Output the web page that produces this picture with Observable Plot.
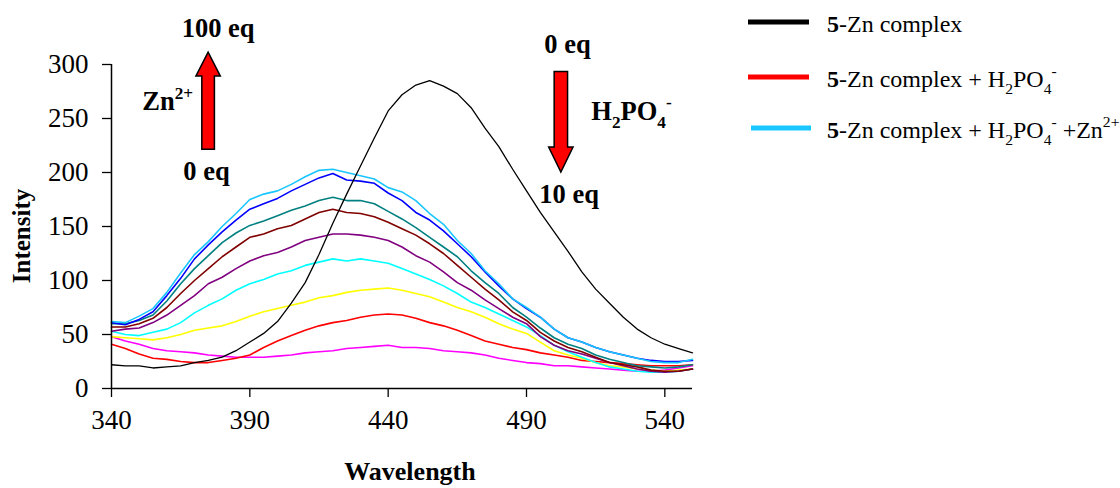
<!DOCTYPE html>
<html><head><meta charset="utf-8">
<script src="https://cdn.jsdelivr.net/npm/d3@7"></script>
<script src="https://cdn.jsdelivr.net/npm/@observablehq/plot@0.6"></script>
<style>
body{margin:0;background:#fff;}
#chart{width:1120px;height:488px;overflow:hidden;}
</style></head><body><div id="chart"></div>
<script>
// Wavelength (nm)
const wavelengths = [340,345,350,355,360,365,370,375,380,385,390,395,400,405,410,415,420,425,430,435,440,445,450,455,460,465,470,475,480,485,490,495,500,505,510,515,520,525,530,535,540,545,550];
const xTicks = [340,390,440,490,540];
const yTicks = [0,50,100,150,200,250,300];

// Intensity series
const zincComplex = [22,21,21,19,20,21,24,26,29,35,43,51,62,79,98,124,153,180,206,232,257,272,281,285,280,273,260,241,224,203,183,163,145,127,108,92,79,66,55,47,41,37,33];
const skyBlue = [62,61,67,74,89,107,124,136,150,162,175,180,183,189,196,202,203,200,197,194,186,182,174,162,152,137,125,109,97,83,75,66,55,47,43,38,34,31,28,25,24,24,27];
const blue = [61,59,64,71,86,102,120,133,145,156,166,171,176,183,189,195,199,193,192,190,181,174,163,156,146,134,122,108,95,83,74,66,55,47,43,38,34,31,28,26,25,25,26];
const teal = [60,60,63,68,81,97,111,123,135,144,151,155,160,165,169,174,177,174,174,171,164,157,149,140,131,122,109,98,88,75,66,56,47,41,37,31,27,24,21,20,19,20,22];
const maroon = [57,57,60,65,75,88,100,111,122,131,140,143,148,151,157,163,166,163,162,159,154,148,142,134,125,114,103,92,82,71,63,52,44,38,34,29,24,22,20,17,16,16,18];
const purple = [53,55,56,61,68,77,86,97,103,111,118,123,126,131,137,140,143,143,142,140,137,131,123,117,108,98,91,82,74,66,60,48,40,35,32,28,24,21,18,16,15,16,18];
const cyan = [53,50,49,52,55,61,70,77,83,91,97,101,106,109,114,117,120,118,120,118,116,111,106,101,95,88,80,75,69,63,57,49,40,34,29,24,20,18,16,15,15,16,18];
const yellow = [48,47,46,45,47,50,54,56,58,62,67,71,74,77,80,84,86,89,91,92,93,91,88,85,80,75,71,66,60,55,51,43,35,31,28,24,21,20,18,17,16,17,18];
const red = [41,37,32,28,27,25,24,24,26,28,31,38,44,49,54,58,61,63,66,68,69,68,65,61,58,54,49,44,41,38,36,33,31,29,26,25,24,23,22,21,21,21,22];
const magenta = [48,44,41,37,35,34,33,31,30,29,29,29,30,31,33,34,35,37,38,39,40,38,38,37,35,34,33,31,28,26,24,23,21,21,20,19,18,17,16,16,17,19,21];

const seriesNames = ["magenta","red","yellow","cyan","purple","maroon","teal","blue","skyBlue"];
const seriesValues = [magenta, red, yellow, cyan, purple, maroon, teal, blue, skyBlue];
const seriesColors = ["#FF00FF","#FF0000","#FFFF00","#00FFFF","#800080","#800000","#008080","#0000FF","#1AC6FF"];

const colored = [];
seriesValues.forEach((vals, i) => vals.forEach((v, j) => colored.push({wavelength: wavelengths[j], intensity: v, series: seriesNames[i], color: seriesColors[i]})));
const blackRows = zincComplex.map((v, j) => ({wavelength: wavelengths[j], intensity: v}));

const FONT = "'Liberation Serif', 'Times New Roman', serif";

const chart = Plot.plot({
  width: 1120, height: 488,
  marginLeft: 111, marginRight: 428, marginTop: 64, marginBottom: 100,
  x: {domain: [340, 550]},
  y: {domain: [0, 300]},
  color: {type: "identity"},
  style: {fontFamily: FONT, fontSize: "27px", color: "black", background: "white", overflow: "hidden"},
  marks: [
    Plot.line(colored, {x: "wavelength", y: "intensity", z: "series", stroke: "color", strokeWidth: 1.6}),
    Plot.line(blackRows, {x: "wavelength", y: "intensity", stroke: "black", strokeWidth: 1.3}),
    Plot.ruleX([340], {stroke: "black", strokeWidth: 1.5}),
    Plot.ruleY([0], {stroke: "black", strokeWidth: 1.5}),
    Plot.axisX({ticks: xTicks, tickSize: 9, tickPadding: 12, label: null, tickFormat: d => String(d), strokeWidth: 1.3}),
    Plot.axisY({ticks: yTicks, tickSize: 9, tickPadding: 14, label: null, tickFormat: d => String(d), strokeWidth: 1.3})
  ]
});
document.getElementById("chart").appendChild(chart);

const svg = d3.select(chart);
const sx = v => chart.scale("x").apply(v);
const sy = v => chart.scale("y").apply(v);
const g = svg.append("g").attr("fill", "black").style("font-family", FONT);

function rich(x, y, parts, size, opts = {}) {
  const t = g.append("text").attr("x", x).attr("y", y).attr("font-size", size)
    .attr("text-anchor", opts.anchor || "start").attr("font-weight", opts.bold ? "bold" : "normal");
  let cur = 0;
  for (const p of parts) {
    const shift = p.sub ? 0.28 * size : p.sup ? -0.45 * size : 0;
    const ts = t.append("tspan").text(p.t).attr("dy", shift - cur);
    cur = shift;
    if (p.sub || p.sup) ts.attr("font-size", size * 0.65);
    if (p.b) ts.attr("font-weight", "bold");
  }
  return t;
}

// Axis titles
g.append("text").attr("transform", "translate(30,236) rotate(-90)").attr("text-anchor", "middle")
  .attr("font-size", 25).attr("font-weight", "bold").text("Intensity");
g.append("text").attr("x", 410).attr("y", 480).attr("text-anchor", "middle")
  .attr("font-size", 26).attr("font-weight", "bold").text("Wavelength");

// Block arrows (positioned in data units)
const zincArrow = {x: 375.1, tip: 311, base: 221};
const phosArrow = {x: 502.6, top: 293, tip: 200};
function blockArrow(cx, yStart, yTip, shaftHalf, headHalf, headLen) {
  const dir = yTip < yStart ? -1 : 1;
  const hb = yTip - dir * headLen;
  const pts = [[cx - shaftHalf, yStart], [cx - shaftHalf, hb], [cx - headHalf, hb], [cx, yTip],
               [cx + headHalf, hb], [cx + shaftHalf, hb], [cx + shaftHalf, yStart]];
  g.append("polygon").attr("points", pts.map(p => p.join(",")).join(" "))
    .attr("fill", "#FF0000").attr("stroke", "black").attr("stroke-width", 1.5).attr("stroke-linejoin", "miter");
}
blockArrow(sx(zincArrow.x), sy(zincArrow.base), sy(zincArrow.tip), 6.3, 12.2, 24);
blockArrow(sx(phosArrow.x), sy(phosArrow.top), sy(phosArrow.tip), 6.7, 12.2, 25);

// Annotation labels
rich(sx(378.7), sy(325), [{t: "100 eq"}], 26.5, {bold: true, anchor: "middle"});
rich(sx(351.3), sy(257), [{t: "Zn"}, {t: "2+", sup: true}], 26.5, {bold: true});
rich(sx(374.5), sy(192.6), [{t: "0 eq"}], 26.5, {bold: true, anchor: "middle"});
rich(sx(505), sy(310), [{t: "0 eq"}], 26.5, {bold: true, anchor: "middle"});
rich(sx(513.6), sy(248), [{t: "H"}, {t: "2", sub: true}, {t: "PO"}, {t: "4", sub: true}, {t: "-", sup: true}], 26.5, {bold: true});
rich(sx(505.6), sy(171), [{t: "10 eq"}], 26.5, {bold: true, anchor: "middle"});

// Legend
const legendItems = [
  {color: "black", y: 22, x0: 748, x1: 809, parts: [{t: "5", b: true}, {t: "-Zn complex"}]},
  {color: "#FF0000", y: 77, x0: 748, x1: 809, parts: [{t: "5", b: true}, {t: "-Zn complex + H"}, {t: "2", sub: true}, {t: "PO"}, {t: "4", sub: true}, {t: "-", sup: true}]},
  {color: "#1AC6FF", y: 128, x0: 751, x1: 811, parts: [{t: "5", b: true}, {t: "-Zn complex + H"}, {t: "2", sub: true}, {t: "PO"}, {t: "4", sub: true}, {t: "-", sup: true}, {t: " +Zn"}, {t: "2+", sup: true}]}
];
legendItems.forEach(it => {
  g.append("line").attr("x1", it.x0).attr("x2", it.x1).attr("y1", it.y).attr("y2", it.y)
    .attr("stroke", it.color).attr("stroke-width", 5);
  rich(827, it.y + 10, it.parts, 24);
});
</script>
</body></html>
